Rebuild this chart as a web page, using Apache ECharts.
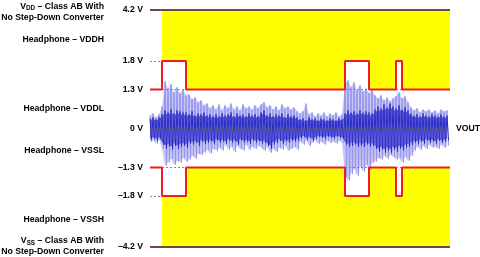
<!DOCTYPE html>
<html><head><meta charset="utf-8">
<script src="https://cdn.jsdelivr.net/npm/echarts@6/dist/echarts.min.js"></script>
<style>html,body{margin:0;padding:0;background:#fff}#c{width:480px;height:257px}</style>
</head><body><div id="c"></div>
<script>
// ---------------- data ----------------
const levelVolts  = [4.2, 1.8, 1.3, 0, -1.3, -1.8, -4.2];
const levelLabels = ['4.2 V', '1.8 V', '1.3 V', '0 V', '–1.3 V', '–1.8 V', '–4.2 V'];

const regionNames = ['VDD_AB', 'VDDH', 'VDDL', 'VSSL', 'VSSH', 'VSS_AB'];

// Class-H headphone rails (time in arbitrary units, volts)
const railTime = [0, 12, 12, 36, 36, 195, 195, 219, 219, 246, 246, 252, 252, 300];
const railHigh = [1.3, 1.3, 1.8, 1.8, 1.3, 1.3, 1.8, 1.8, 1.3, 1.3, 1.8, 1.8, 1.3, 1.3];
const railLow  = [-1.3, -1.3, -1.8, -1.8, -1.3, -1.3, -1.8, -1.8, -1.3, -1.3, -1.8, -1.8, -1.3, -1.3];
const yellowStartTime = 12;

// Class AB supply without step-down converter
const abTime = [0, 300];
const abHigh = [4.2, 4.2];
const abLow  = [-4.2, -4.2];

// VOUT waveform envelope (volts), one sample every 3 time units
const sampleStep = 3;
const voutLightUpper = [
  0.43,0.50,0.37,0.47,0.73,1.57,1.33,1.47,1.20,1.37,
  1.17,1.30,1.10,1.13,0.97,1.03,0.87,0.93,0.77,0.83,
  0.67,0.77,0.63,0.80,0.60,0.77,0.67,0.83,0.63,0.73,
  0.60,0.80,0.67,0.73,0.63,0.77,0.67,0.80,0.87,0.70,
  0.77,0.63,0.73,0.60,0.80,0.67,0.73,0.63,0.70,0.57,
  0.50,0.57,0.83,0.47,0.53,0.40,0.50,0.43,0.53,0.40,
  0.50,0.43,0.53,0.40,0.47,1.47,1.60,1.37,1.53,1.27,
  1.43,1.23,1.33,1.17,1.27,1.10,1.00,1.10,0.93,1.03,
  0.90,1.00,1.07,1.20,1.00,1.07,0.87,0.70,0.60,0.67,
  0.53,0.63,0.57,0.63,0.53,0.60,0.50,0.63,0.57,0.60];
const voutLightLower = [
  -0.43,-0.40,-0.50,-0.37,-0.67,-1.23,-1.13,-1.00,-1.20,-1.07,
  -1.13,-0.97,-1.10,-1.03,-0.90,-1.00,-0.83,-0.87,-0.80,-0.70,
  -0.83,-0.67,-0.73,-0.63,-0.73,-0.53,-0.70,-0.60,-0.77,-0.57,
  -0.67,-0.73,-0.53,-0.70,-0.60,-0.67,-0.57,-0.63,-0.73,-0.60,
  -0.80,-0.67,-0.77,-0.63,-0.70,-0.57,-0.73,-0.67,-0.60,-0.70,
  -0.43,-0.53,-0.40,-0.57,-0.47,-0.40,-0.50,-0.43,-0.53,-0.40,
  -0.47,-0.43,-0.50,-0.40,-0.47,-1.60,-1.73,-1.50,-1.33,-1.57,
  -1.27,-1.43,-1.20,-1.37,-1.13,-1.10,-0.97,-1.03,-0.90,-1.00,
  -0.87,-0.93,-1.03,-0.97,-1.13,-0.93,-1.07,-0.90,-0.73,-0.60,
  -0.70,-0.57,-0.67,-0.53,-0.63,-0.60,-0.67,-0.53,-0.63,-0.57];
const voutDarkUpper = [
  0.33,0.37,0.30,0.37,0.47,0.60,0.53,0.63,0.50,0.60,
  0.57,0.53,0.53,0.47,0.57,0.43,0.50,0.47,0.53,0.43,
  0.47,0.40,0.47,0.40,0.50,0.43,0.47,0.53,0.40,0.50,
  0.43,0.47,0.40,0.50,0.43,0.47,0.40,0.53,0.60,0.43,
  0.50,0.40,0.47,0.43,0.50,0.37,0.47,0.40,0.43,0.37,
  0.30,0.33,0.27,0.37,0.30,0.33,0.27,0.33,0.30,0.27,
  0.33,0.30,0.27,0.33,0.30,0.50,0.60,0.53,0.57,0.50,
  0.60,0.53,0.57,0.53,0.50,0.63,0.73,0.67,0.80,0.70,
  0.83,0.73,0.67,0.77,0.63,0.70,0.60,0.50,0.43,0.47,
  0.40,0.50,0.43,0.40,0.47,0.43,0.40,0.47,0.40,0.43];
const voutDarkLower = [
  -0.37,-0.33,-0.40,-0.33,-0.53,-0.67,-0.60,-0.70,-0.57,-0.67,
  -0.60,-0.57,-0.63,-0.50,-0.53,-0.47,-0.57,-0.43,-0.50,-0.47,
  -0.43,-0.50,-0.40,-0.47,-0.43,-0.50,-0.40,-0.47,-0.43,-0.53,
  -0.40,-0.47,-0.43,-0.50,-0.40,-0.47,-0.43,-0.50,-0.47,-0.57,
  -0.67,-0.53,-0.47,-0.40,-0.50,-0.43,-0.47,-0.40,-0.43,-0.40,
  -0.33,-0.27,-0.37,-0.30,-0.40,-0.33,-0.27,-0.30,-0.33,-0.27,
  -0.30,-0.33,-0.27,-0.30,-0.33,-0.53,-0.60,-0.57,-0.53,-0.60,
  -0.57,-0.60,-0.53,-0.60,-0.57,-0.67,-0.77,-0.70,-0.80,-0.73,
  -0.80,-0.70,-0.77,-0.67,-0.73,-0.63,-0.60,-0.53,-0.47,-0.50,
  -0.43,-0.50,-0.40,-0.47,-0.43,-0.50,-0.40,-0.47,-0.43,-0.40];

// ---------------- schematic (non-linear) voltage axis ----------------
const axisKnotVolts = [0, 1.3, 1.8, 4.2];
const axisKnotDisp  = [0, 1.3, 2.243, 3.943];
function yMap(v) {
  const s = v < 0 ? -1 : 1, a = Math.abs(v);
  for (let i = 1; i < axisKnotVolts.length; i++) {
    if (a <= axisKnotVolts[i] || i === axisKnotVolts.length - 1) {
      const t = (a - axisKnotVolts[i - 1]) / (axisKnotVolts[i] - axisKnotVolts[i - 1]);
      return s * (axisKnotDisp[i - 1] + t * (axisKnotDisp[i] - axisKnotDisp[i - 1]));
    }
  }
}
const yMax = yMap(4.2);
const regionPos = [3.885, 2.962, 0.666, -0.732, -3.028, -3.91];
const regionText = {
  VDD_AB: '{b|V}{s|DD}{b| – Class AB With}\n{b|No Step-Down Converter}',
  VDDH: '{b|Headphone – VDDH}',
  VDDL: '{b|Headphone – VDDL}',
  VSSL: '{b|Headphone – VSSL}',
  VSSH: '{b|Headphone – VSSH}',
  VSS_AB: '{b|V}{s|SS}{b| – Class AB With}\n{b|No Step-Down Converter}'
};

const pts = (ts, vs, map) => ts.map((t, i) => [t, map ? yMap(vs[i]) : vs[i]]);
const wave = arr => arr.map((v, i) => [i * sampleStep, v]);
// zig-zag trace through the envelope samples (upper, then lower half a step later)
const zig = (up, lo) => {
  const out = [];
  up.forEach((v, i) => { out.push([i * sampleStep, v]); out.push([i * sampleStep + sampleStep / 2, lo[i]]); });
  return out;
};
const railHighPts = pts(railTime, railHigh, true);
const railLowPts = pts(railTime, railLow, true);

// pulse intervals (where the rail is at 1.8 V)
const pulses = [];
for (let i = 0; i + 1 < railTime.length; i++) {
  if (railHigh[i] === 1.8 && railHigh[i + 1] === 1.8) pulses.push([railTime[i], railTime[i + 1]]);
}

const FONT = 'Arial, "Liberation Sans", sans-serif';
const FS = 8.7;

function nearest(list, v) {
  let best = 0;
  list.forEach((x, i) => { if (Math.abs(x - v) < Math.abs(list[best] - v)) best = i; });
  return best;
}
const levelPos = levelVolts.map(yMap);

const chart = echarts.init(document.getElementById('c'), null, {renderer: 'canvas'});
const areaSeries = (name, data, color, origin, z) => ({
  name, type: 'line', data, symbol: 'none', silent: true, z: z || 2,
  lineStyle: {width: 0}, areaStyle: {color, opacity: 1, origin}
});
const zigSeries = (name, data, color, z) => ({
  name, type: 'line', data, symbol: 'none', silent: true, z,
  lineStyle: {width: 1, color}
});

const guideLines = [
  [{coord: [0, yMap(1.8)]}, {coord: [yellowStartTime, yMap(1.8)]}],
  [{coord: [0, yMap(-1.8)]}, {coord: [yellowStartTime, yMap(-1.8)]}]
];
pulses.forEach(p => {
  guideLines.push([{coord: [p[0], yMap(1.3)]}, {coord: [p[1], yMap(1.3)]}]);
  guideLines.push([{coord: [p[0], yMap(-1.3)]}, {coord: [p[1], yMap(-1.3)]}]);
});
guideLines.push([{coord: [0, 0], lineStyle: {color: '#555'},
  label: {show: true, position: 'end', formatter: 'VOUT', distance: 6,
    fontSize: FS, fontWeight: 'bold', color: '#000', fontFamily: FONT}},
  {coord: [300, 0]}]);

chart.setOption({
  animation: false,
  grid: {left: 150, right: 30, top: 10, bottom: 10, containLabel: false, outerBoundsMode: 'none'},
  xAxis: {type: 'value', min: 0, max: 300, show: false},
  yAxis: [
    {type: 'value', min: -yMax, max: yMax,
     axisLine: {show: false}, axisTick: {show: false}, splitLine: {show: false},
     axisLabel: {customValues: levelPos, margin: 7, fontSize: FS, fontWeight: 'bold',
       color: '#000', fontFamily: FONT,
       formatter: v => levelLabels[nearest(levelPos, v)]}},
    {type: 'value', min: -yMax, max: yMax, position: 'left',
     axisLine: {show: false}, axisTick: {show: false}, splitLine: {show: false},
     axisLabel: {customValues: regionPos, margin: 46, color: '#000',
       formatter: v => regionText[regionNames[nearest(regionPos, v)]],
       rich: {
         b: {fontSize: FS, fontWeight: 'bold', fontFamily: FONT, color: '#000', lineHeight: 11},
         s: {fontSize: 6.3, fontWeight: 'bold', fontFamily: FONT, color: '#000', verticalAlign: 'bottom', padding: [4, 0, 0, 0]}
       }}}
  ],
  series: [
    areaSeries('yellowTop', railHighPts.filter(p => p[0] >= yellowStartTime), '#ffff00', 'end'),
    areaSeries('yellowBottom', railLowPts.filter(p => p[0] >= yellowStartTime), '#ffff00', 'start'),
    areaSeries('voutLightUpperFill', wave(voutLightUpper), '#c8c8f6', 'auto', 2),
    areaSeries('voutLightLowerFill', wave(voutLightLower), '#c8c8f6', 'auto', 2),
    zigSeries('voutLight', zig(voutLightUpper, voutLightLower), '#9494ec', 2),
    areaSeries('voutDarkUpperFill', wave(voutDarkUpper.map(v => v * 0.85)), '#5050d6', 'auto', 2),
    areaSeries('voutDarkLowerFill', wave(voutDarkLower.map(v => v * 0.85)), '#5050d6', 'auto', 2),
    zigSeries('voutDark', zig(voutDarkUpper, voutDarkLower), '#2a2ac4', 2),
    {name: 'guides', type: 'line', data: [], z: 3, silent: true,
     markLine: {symbol: 'none', silent: true, animation: false,
       lineStyle: {color: '#888', width: 1, type: [2, 2]},
       label: {show: false},
       data: guideLines}},
    {name: 'railHigh', type: 'line', data: railHighPts, symbol: 'none', clip: false, z: 5,
     lineStyle: {color: '#ee1c24', width: 2}},
    {name: 'railLow', type: 'line', data: railLowPts, symbol: 'none', clip: false, z: 5,
     lineStyle: {color: '#ee1c24', width: 2}},
    {name: 'abHigh', type: 'line', data: pts(abTime, abHigh, true), symbol: 'none', clip: false, z: 5,
     lineStyle: {color: '#6f4a3a', width: 2}},
    {name: 'abLow', type: 'line', data: pts(abTime, abLow, true), symbol: 'none', clip: false, z: 5,
     lineStyle: {color: '#6f4a3a', width: 2}}
  ]
});
</script></body></html>
